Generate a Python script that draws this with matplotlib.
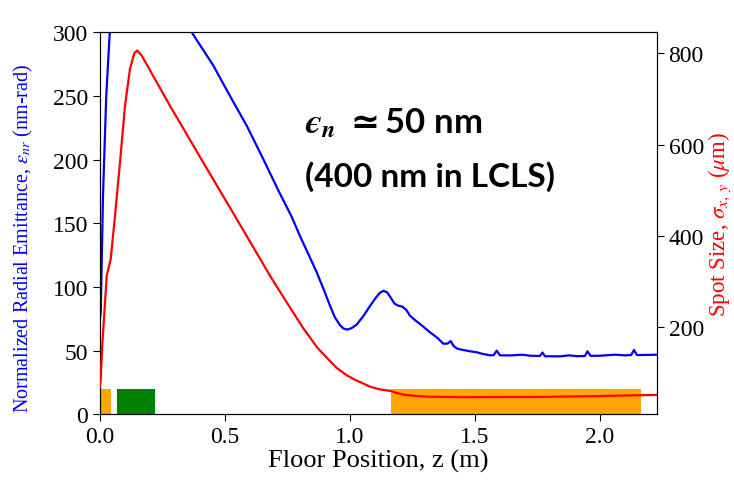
import matplotlib
matplotlib.use("Agg")
import matplotlib.pyplot as plt

plt.rcParams['font.family'] = ['Liberation Serif', 'DejaVu Serif']
plt.rcParams['mathtext.fontset'] = 'stix'
plt.rcParams['mathtext.it'] = 'STIXGeneral:italic:bold'
plt.rcParams['mathtext.rm'] = 'DejaVu Sans:bold'
plt.rcParams['mathtext.bf'] = 'DejaVu Sans:bold'

# Emittance (left axis, nm-rad)
blue_z = [0.0, 0.003, 0.012, 0.025, 0.039, 0.06, 0.12, 0.2, 0.28, 0.33, 0.367, 0.41,
          0.453, 0.52, 0.587, 0.653, 0.713, 0.767, 0.8, 0.833, 0.867, 0.895, 0.92,
          0.94, 0.96, 0.975, 0.99, 1.005, 1.027, 1.053, 1.08, 1.105, 1.12, 1.135,
          1.15, 1.165, 1.178, 1.193, 1.21, 1.225, 1.24, 1.26, 1.28, 1.32, 1.35,
          1.373, 1.39, 1.403, 1.415, 1.43, 1.453, 1.48, 1.507, 1.53, 1.56, 1.575,
          1.587, 1.6, 1.65, 1.69, 1.72, 1.76, 1.77, 1.78, 1.84, 1.876, 1.91, 1.94,
          1.95, 1.962, 2.0, 2.06, 2.1, 2.125, 2.136, 2.148, 2.227]
blue_v = [75, 80, 172, 250, 300, 340, 380, 372, 325, 311, 300, 287,
          274, 250, 226.6, 200.5, 176, 155, 140, 126, 111.5, 98, 85.3,
          76, 70, 67.2, 66.6, 67.5, 70.5, 77, 85, 92, 95.5, 97,
          95.5, 91, 87, 85.3, 84.5, 82, 77.4, 74, 71, 64.4, 60,
          55.5, 55.5, 57.5, 53.5, 51.5, 50.5, 49.5, 48.7, 47.5, 46.3, 46.5,
          50, 46.3, 46.3, 46.8, 46, 45.8, 48.5, 45.6, 45.5, 46.3, 45.6, 45.8,
          49.5, 45.9, 46, 46.8, 46.3, 46.6, 50.5, 46.5, 46.8]

# Spot size (right axis, um)
red_z = [0.0, 0.003, 0.009, 0.027, 0.043, 0.06, 0.08, 0.1, 0.12, 0.137, 0.149, 0.167,
         0.28, 0.413, 0.547, 0.68, 0.75, 0.813, 0.87, 0.92, 0.947, 0.987, 1.02,
         1.053, 1.08, 1.12, 1.164, 1.187, 1.22, 1.253, 1.32, 1.45, 1.76, 2.0, 2.227]
red_v = [70, 87, 160, 313, 350, 444, 561, 685, 766, 800, 806, 795,
         685, 561, 437, 313, 252, 198, 155, 126, 111, 95, 85,
         77, 70, 64, 60.5, 56, 52, 50, 48, 47, 47.5, 49.5, 52]

# Element bars (left axis units)
bar_start = [0.0, 0.069, 1.164]
bar_end = [0.043, 0.22, 2.163]
bar_color = ['orange', 'green', 'orange']
bar_height = 20

fig = plt.figure(figsize=(7.34, 4.81), dpi=100)
ax = fig.add_axes([100/734, 1-415.3/481, 556.7/734, 382/481])
for s, e, c in zip(bar_start, bar_end, bar_color):
    ax.bar(s, bar_height, width=e - s, align='edge', color=c, zorder=1)
ax.plot(blue_z, blue_v, color='blue', lw=1.6, zorder=3)
ax.set_xlim(0, 2.227)
ax.set_ylim(0, 300)
ax.set_yticks([0, 50, 100, 150, 200, 250, 300])
ax.set_xticks([0.0, 0.5, 1.0, 1.5, 2.0])
ax.tick_params(labelsize=17, length=5)
ax.set_xlabel('Floor Position, z (m)', fontsize=19, labelpad=1)
ax.set_ylabel(r'Normalized Radial Emittance, $\epsilon_{nr}$ (nm-rad)', color='blue',
              fontsize=14.5, labelpad=13)
ax.yaxis.label.set_y(0.464)

ax2 = ax.twinx()
ax2.plot(red_z, red_v, color='red', lw=1.6, zorder=3)
ax2.set_ylim(9.5, 846)
ax2.set_yticks([200, 400, 600, 800])
ax2.tick_params(labelsize=17, length=5)
ax2.set_ylabel(r'Spot Size, $\sigma_{x,\,y}$ ($\mu$m)', color='red', fontsize=16.5, labelpad=2)

ann_family = ['Lato', 'DejaVu Sans']
fig.text(305/734, 1-133/481, '$\u03f5_n$ ${\\simeq}$50 nm', fontsize=25, fontweight='bold',
         family=ann_family, math_fontfamily='custom', ha='left', va='baseline')
fig.text(305/734, 1-187/481, '(400 nm in LCLS)', fontsize=24, fontweight='bold',
         family=ann_family, ha='left', va='baseline')

fig.savefig('out.png', dpi=100)
